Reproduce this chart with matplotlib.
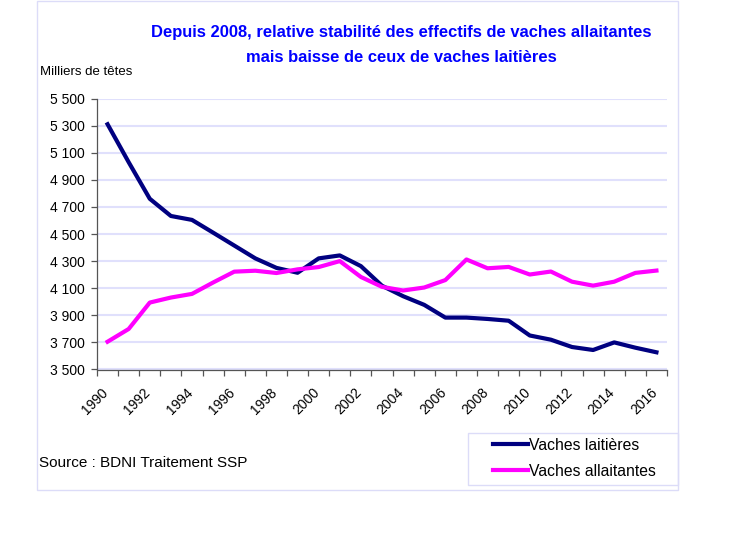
import matplotlib.pyplot as plt
from matplotlib.patches import Rectangle
from matplotlib.ticker import FixedLocator, FuncFormatter

years = list(range(1990, 2017))
laitieres = [5310, 5030, 4760, 4633, 4604, 4510, 4415, 4320, 4250, 4214,
             4320, 4342, 4263, 4118, 4041, 3977, 3883, 3883, 3873, 3860,
             3751, 3720, 3666, 3644, 3700, 3661, 3627]
allaitantes = [3705, 3799, 3994, 4031, 4058, 4142, 4222, 4229, 4212, 4239,
               4256, 4300, 4183, 4110, 4083, 4105, 4160, 4312, 4247, 4257,
               4201, 4223, 4148, 4119, 4148, 4213, 4230]
y_ticks = list(range(3500, 5501, 200))
x_labels = [str(y) for y in range(1990, 2017, 2)]

plt.rcParams["font.family"] = ["Liberation Sans", "DejaVu Sans"]

W, H = 756, 542
fig = plt.figure(figsize=(7.56, 5.42), dpi=100)
ax = fig.add_axes([97 / W, 1 - 369.5 / H, 570 / W, 271 / H])

# outer frame and legend frame, as drawn by the spreadsheet
frame_col = "#dcdcf8"
fig.patches.append(Rectangle((37 / W, 1 - 490 / H), 641 / W, 489 / H,
                             transform=fig.transFigure, fill=False,
                             edgecolor=frame_col, linewidth=1))
fig.patches.append(Rectangle((468 / W, 1 - 485 / H), 210 / W, 52 / H,
                             transform=fig.transFigure, fill=False,
                             edgecolor=frame_col, linewidth=1))

x = list(range(len(years)))
ax.plot(x, laitieres, color="#000080", linewidth=3, label="Vaches laitières",
        solid_joinstyle="round")
ax.plot(x, allaitantes, color="#ff00ff", linewidth=3, label="Vaches allaitantes",
        solid_joinstyle="round")

ax.set_xlim(-0.5, len(years) - 0.5)
ax.set_ylim(3500, 5500)
ax.yaxis.set_major_locator(FixedLocator(y_ticks))
ax.yaxis.set_major_formatter(FuncFormatter(lambda v, p: f"{int(v):,}".replace(",", " ")))
ax.grid(axis="y", color="#e0e0fc", linewidth=1.5)
ax.set_axisbelow(True)

ax.set_xticks([i - 0.5 for i in range(len(years) + 1)])
ax.set_xticklabels([])
for i, lab in enumerate(x_labels):
    ax.text(2 * i - 0.3, 3385, lab, rotation=45, ha="right", va="top",
            rotation_mode="anchor", fontsize=10)

for side in ("top", "right"):
    ax.spines[side].set_visible(False)
for side in ("left", "bottom"):
    ax.spines[side].set_color("#555555")
    ax.spines[side].set_linewidth(0.9)
ax.tick_params(axis="both", direction="out", length=4, width=0.9, color="#555555",
               labelsize=10)
ax.tick_params(axis="y", pad=5)

fig.text(401 / W, 1 - 33 / H,
         "Depuis 2008, relative stabilité des effectifs de vaches allaitantes",
         ha="center", va="center", fontsize=11.9, fontweight="bold", color="#0000ff")
fig.text(401 / W, 1 - 57 / H, "mais baisse de ceux de vaches laitières",
         ha="center", va="center", fontsize=11.9, fontweight="bold", color="#0000ff")
fig.text(40 / W, 1 - 72 / H, "Milliers de têtes", ha="left", va="center", fontsize=9.5)
fig.text(39 / W, 1 - 463 / H, "Source : BDNI Traitement SSP", ha="left", va="center",
         fontsize=11)

fig.legend(loc="upper left", bbox_to_anchor=(493 / W, 1 - 437.5 / H),
           frameon=False, fontsize=11.3, handlelength=2.2, handletextpad=0.1,
           borderpad=0, borderaxespad=0, labelspacing=0.72)

fig.savefig("out.png", dpi=100)
